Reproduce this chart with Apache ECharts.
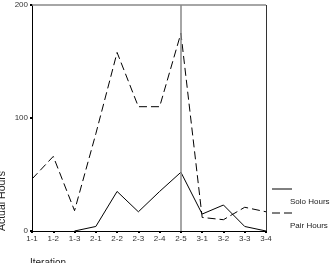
<!DOCTYPE html>
<html><head><meta charset="utf-8">
<script src="https://cdn.jsdelivr.net/npm/echarts@6/dist/echarts.min.js"></script>
<style>html,body{margin:0;padding:0;background:#fff}#c{width:331px;height:263px}</style>
</head><body><div id="c"></div>
<script>
const categories = ['1-1','1-2','1-3','2-1','2-2','2-3','2-4','2-5','3-1','3-2','3-3','3-4'];
const soloHours = [null, null, 0, 4, 35, 17, 35, 52, 15, 23, 4, 0];
const pairHours = [46, 66, 18, 86, 158, 110, 110, 175, 12, 10, 21, 17];
const yTicks = [0, 100, 200];
const F = 'Liberation Sans, Arial, sans-serif';
const chart = echarts.init(document.getElementById('c'));
chart.setOption({
  animation: false,
  grid: {left: 32, right: 65, top: 5, bottom: 32},
  xAxis: {
    type: 'category', data: categories, boundaryGap: false,
    axisLine: {lineStyle: {color: '#000', width: 1}},
    axisTick: {show: true, length: 2, lineStyle: {color: '#000', width: 2}},
    axisLabel: {color: '#333', fontSize: 8, fontFamily: F, margin: 4}
  },
  yAxis: {
    type: 'value', min: 0, max: 200, interval: 100,
    axisLine: {show: true, lineStyle: {color: '#000', width: 1}},
    axisTick: {show: true, length: 2, lineStyle: {color: '#000', width: 2}},
    axisLabel: {color: '#333', fontSize: 8, fontFamily: F, margin: 4,
      formatter: v => yTicks.includes(v) ? String(v) : ''},
    splitLine: {show: false}
  },
  series: [
    {name: 'Solo Hours', type: 'line', data: soloHours, symbol: 'none',
      lineStyle: {color: '#000', width: 1}, connectNulls: false,
      markLine: {symbol: 'none', silent: true, label: {show: false},
        data: [
          {xAxis: '2-5', lineStyle: {color: '#888', width: 1.5, type: 'solid'}},
          {xAxis: '3-4', lineStyle: {color: '#333', width: 1, type: 'solid'}},
          {yAxis: 200, lineStyle: {color: '#888', width: 1.5, type: 'solid'}}
        ]}},
    {name: 'Pair Hours', type: 'line', data: pairHours, symbol: 'none',
      lineStyle: {color: '#000', width: 1, type: [8, 4]}}
  ],
  graphic: [
    {type: 'line', shape: {x1: 272, y1: 189, x2: 292, y2: 189}, style: {stroke: '#000', lineWidth: 1}},
    {type: 'text', left: 290, top: 198, style: {text: 'Solo Hours', fontSize: 8, fontFamily: F, fill: '#222'}},
    {type: 'line', shape: {x1: 272, y1: 213, x2: 292, y2: 213}, style: {stroke: '#000', lineWidth: 1, lineDash: [8, 4]}},
    {type: 'text', left: 290, top: 222, style: {text: 'Pair Hours', fontSize: 8, fontFamily: F, fill: '#222'}},
    {type: 'text', x: 2, y: 201, rotation: Math.PI / 2, style: {text: 'Actual Hours', fontSize: 10.5, fontFamily: F, fill: '#222', align: 'center', verticalAlign: 'middle'}},
    {type: 'text', left: 30, top: 258, style: {text: 'Iteration', fontSize: 10, fontFamily: F, fill: '#222'}}
  ]
});
</script></body></html>
